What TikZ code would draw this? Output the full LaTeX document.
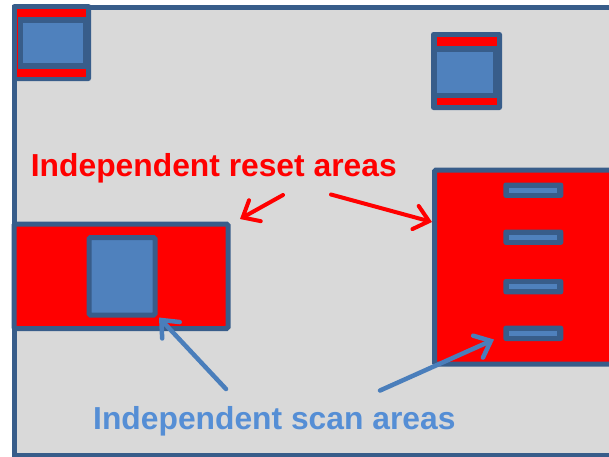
\documentclass[tikz,border=0pt]{standalone}
\usepackage{fontspec}
\setmainfont{Liberation Sans}
\usetikzlibrary{arrows.meta}
\definecolor{dkblue}{RGB}{56,93,138}
\definecolor{ltblue}{RGB}{79,129,189}
\definecolor{bggray}{RGB}{217,217,217}
\definecolor{txtblue}{RGB}{85,142,213}
\definecolor{arrblue}{RGB}{74,126,187}
\definecolor{pred}{RGB}{255,0,0}
\tikzset{
  frame/.style={fill=bggray, draw=dkblue, line width=5pt},
  resetarea/.style={fill=pred, draw=dkblue, line width=5pt, rounded corners=1.5pt},
  scanbox/.style={fill=ltblue, draw=dkblue, line width=5pt, rounded corners=1.5pt},
  chipbody/.style={fill=dkblue, rounded corners=2.5pt},
  barouter/.style={fill=dkblue, rounded corners=2.5pt},
  label/.style={inner sep=0pt, anchor=base west, font=\fontsize{31.8}{36}\selectfont\bfseries},
  redarrow/.style={draw=pred, line width=4pt, line cap=round, -{Straight Barb[length=14pt,width=24pt,line cap=round]}},
  bluearrow/.style={draw=arrblue, line width=4.5pt, line cap=round, -{Straight Barb[length=14pt,width=24pt,line cap=round]}}
}
\begin{document}
\begin{tikzpicture}[x=1pt,y=-1pt]
\useasboundingbox (0,0) rectangle (609,456);
\fill[white] (0,0) rectangle (609,456);
\clip (0,0) rectangle (609,456);
% outer frame
\draw[frame] (14,7.5) rectangle (640,455.5);
% chip top-left
\fill[chipbody] (12,4) rectangle (91,81);
\fill[pred] (17,9) rectangle (86,77);
\fill[dkblue] (18,17) rectangle (89,69);
\fill[ltblue] (23,23) rectangle (83,63);
% chip top-right
\fill[chipbody] (431,32) rectangle (502,110);
\fill[pred] (437,37) rectangle (497,46);
\fill[pred] (437,98) rectangle (497,105);
\fill[ltblue] (437,52) rectangle (493,93);
% left reset area with scan area
\draw[resetarea] (14,224) rectangle (228,328.5);
\draw[scanbox] (89,237.5) rectangle (155,315);
% right reset area with bars
\draw[resetarea] (434.5,170) rectangle (650,364);
\foreach \c/\n in {190.2/b1,237.2/b2,286.7/b3,333.3/b4}{
  \fill[barouter] (503.3,\c-7.7) rectangle (563.3,\c+7.7);
  \fill[ltblue] (509.3,\c-2.7) rectangle (556.7,\c+2.7);
  \coordinate (\n) at (533.3,\c);
}
% labels
\node[label, text=pred] (reset) at (30.7,176.7) {Independent reset areas};
\node[label, text=txtblue] (scan) at (93,429.3) {Independent scan areas};
% arrows
\coordinate (r1s) at (283,195);
\coordinate (r1e) at (240,219);
\coordinate (r2s) at (331,194.5);
\coordinate (r2e) at (432,222);
\coordinate (s1s) at (226,389);
\coordinate (s1e) at (159,317.5);
\coordinate (s2s) at (380,390.5);
\coordinate (s2e) at (494,339.5);
\draw[redarrow] (r1s) -- (r1e);
\draw[redarrow] (r2s) -- (r2e);
\draw[bluearrow] (s1s) -- (s1e);
\draw[bluearrow] (s2s) -- (s2e);
\end{tikzpicture}
\end{document}
